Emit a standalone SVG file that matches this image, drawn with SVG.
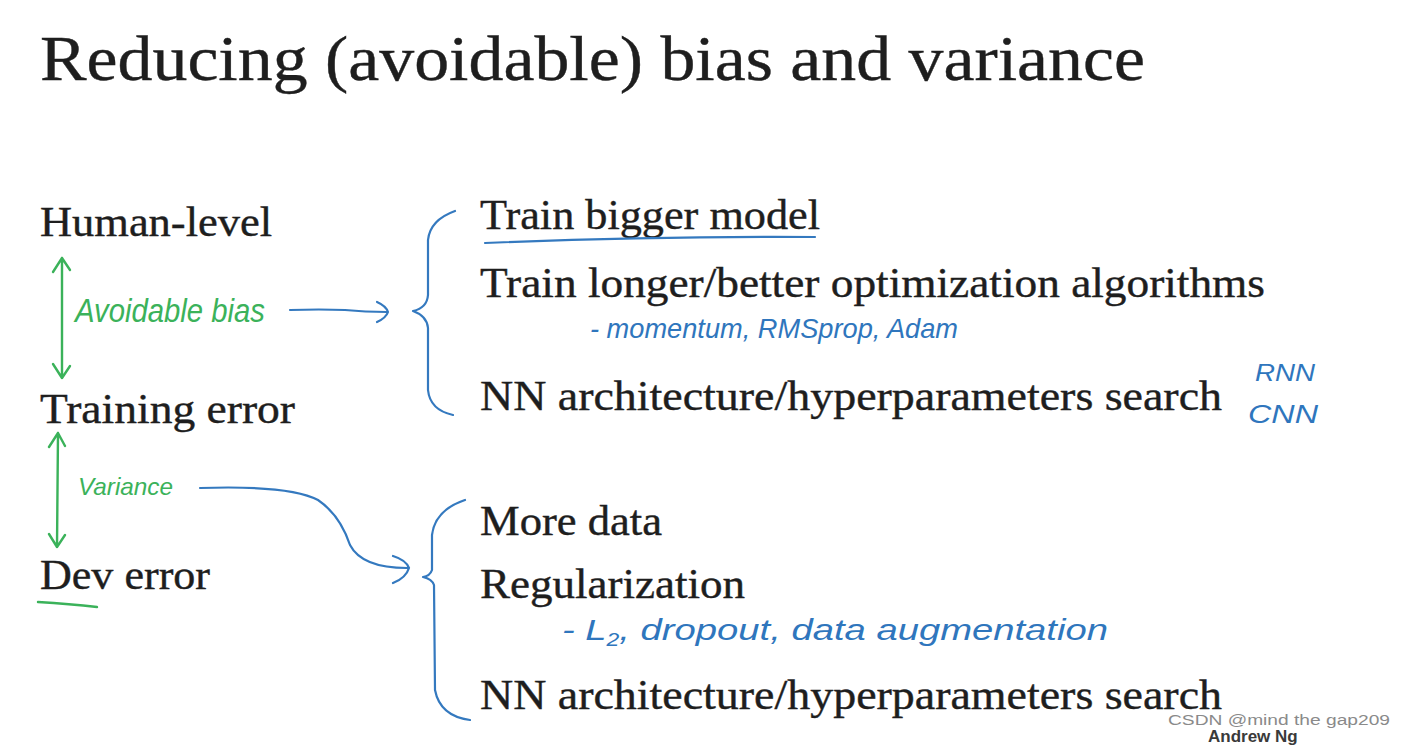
<svg xmlns="http://www.w3.org/2000/svg" width="1406" height="747" viewBox="0 0 1406 747">
<style>
.t{font-family:"Liberation Serif","Times New Roman",serif;fill:#1e1e1e;stroke:#1e1e1e;stroke-width:0.4}
.h{font-family:"Liberation Sans",Arial,sans-serif;font-style:italic}
.hb{fill:#2f76bd}
.hg{fill:#3bb25a}
.bl{fill:none;stroke:#3479bf;stroke-width:2.2;stroke-linecap:round;stroke-linejoin:round}
.gr{fill:none;stroke:#3bb25a;stroke-width:2.4;stroke-linecap:round;stroke-linejoin:round}
</style>
<rect width="1406" height="747" fill="#ffffff"/>
<g id="title"><text class="t" x="40" y="80" font-size="64" textLength="1105" lengthAdjust="spacingAndGlyphs">Reducing (avoidable) bias and variance</text></g>
<g id="human-level"><text class="t" x="40" y="236" font-size="42" textLength="232" lengthAdjust="spacingAndGlyphs">Human-level</text></g>
<g id="training-error"><text class="t" x="40" y="423" font-size="42" textLength="255" lengthAdjust="spacingAndGlyphs">Training error</text></g>
<g id="dev-error"><text class="t" x="40" y="589" font-size="42" textLength="170" lengthAdjust="spacingAndGlyphs">Dev error</text>
<path class="gr" d="M38 602 Q70 604 97 607"/></g>
<g id="bias-remedies">
<text class="t" x="480" y="229" font-size="42" textLength="340" lengthAdjust="spacingAndGlyphs">Train bigger model</text>
<path class="bl" d="M485 243 Q650 236 815 237"/>
<text class="t" x="480" y="297" font-size="42" textLength="785" lengthAdjust="spacingAndGlyphs">Train longer/better optimization algorithms</text>
<text class="h hb" x="590" y="338" font-size="28" textLength="368" lengthAdjust="spacingAndGlyphs">- momentum, RMSprop, Adam</text>
<text class="t" x="480" y="410" font-size="42" textLength="742" lengthAdjust="spacingAndGlyphs">NN architecture/hyperparameters search</text>
<text class="h hb" x="1255" y="381" font-size="24" textLength="60" lengthAdjust="spacingAndGlyphs">RNN</text>
<text class="h hb" x="1248" y="423" font-size="26" textLength="70" lengthAdjust="spacingAndGlyphs">CNN</text>
</g>
<g id="variance-remedies">
<text class="t" x="480" y="535" font-size="42" textLength="182" lengthAdjust="spacingAndGlyphs">More data</text>
<text class="t" x="480" y="598" font-size="42" textLength="265" lengthAdjust="spacingAndGlyphs">Regularization</text>
<text class="h hb" x="562" y="640" font-size="30" textLength="546" lengthAdjust="spacingAndGlyphs">- L<tspan font-size="18" dy="6">2</tspan><tspan dy="-6">, dropout, data augmentation</tspan></text>
<text class="t" x="480" y="709" font-size="42" textLength="742" lengthAdjust="spacingAndGlyphs">NN architecture/hyperparameters search</text>
</g>
<g id="avoidable-bias"><text class="h hg" x="75" y="322" font-size="34" textLength="190" lengthAdjust="spacingAndGlyphs">Avoidable bias</text></g>
<g id="variance"><text class="h hg" x="78" y="495" font-size="24" textLength="95" lengthAdjust="spacingAndGlyphs">Variance</text></g>
<g id="connectors">
<path class="gr" d="M62 258 L62 378 M53 272 L62 258 L70 270 M53 364 L62 378 L70 366"/>
<path class="gr" d="M58 433 L57 547 M49 447 L58 433 L65 446 M49 534 L57 547 L65 535"/>
<path class="bl" d="M290 310 Q320 309 345 310 Q365 312 387 312 M377 302 Q386 306 388 312 Q386 318 377 322"/>
<path class="bl" d="M200 488 Q290 485 318 500 Q340 515 350 545 Q362 568 407 568 M393 556 Q406 560 409 568 Q406 578 393 583"/>
<path class="bl" d="M455 211 Q430 220 428 240 L428 295 Q427 308 413 311 Q427 316 428 328 L428 390 Q430 410 453 415"/>
<path class="bl" d="M465 500 Q435 510 432 535 L432 570 Q430 576 423 577 Q432 579 434 585 L435 690 Q440 716 470 720"/>
</g>
<g id="watermark">
<text x="1208" y="742" font-family="Liberation Sans,Arial,sans-serif" font-weight="bold" font-size="17" fill="#3a3a3a">Andrew Ng</text>
<text x="1168" y="725" font-family="Liberation Sans,Arial,sans-serif" font-size="14" fill="#8a8a8a" textLength="222" lengthAdjust="spacingAndGlyphs">CSDN @mind the gap209</text>
</g>
</svg>
